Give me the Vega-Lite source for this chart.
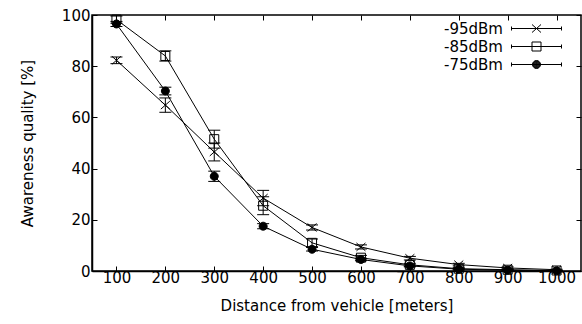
{
  "$schema": "https://vega.github.io/schema/vega-lite/v6.json",
  "width": 489,
  "height": 256,
  "autosize": {"type": "none"},
  "padding": {"left": 92, "top": 15, "right": 1, "bottom": 53},
  "background": "white",
  "config": {
    "view": {"stroke": "black", "strokeWidth": 1.5},
    "font": "DejaVu Sans",
    "axis": {
      "labelFont": "DejaVu Sans", "titleFont": "DejaVu Sans",
      "labelFontSize": 15, "titleFontSize": 15, "labelColor": "black", "titleColor": "black",
      "titleFontWeight": "normal", "domainColor": "black", "tickColor": "black",
      "grid": false, "tickSize": -5, "domainWidth": 1.5, "format": "d"
    },
    "legend": {"labelFont": "DejaVu Sans", "labelFontSize": 15, "labelColor": "black", "padding": 0}
  },
  "data": {"values": [
    {"series": "-95dBm", "d": 100, "v": 82.3, "lo": 81.0, "hi": 83.6},
    {"series": "-95dBm", "d": 200, "v": 64.8, "lo": 62.0, "hi": 67.6},
    {"series": "-95dBm", "d": 300, "v": 46.5, "lo": 43.0, "hi": 50.0},
    {"series": "-95dBm", "d": 400, "v": 28.5, "lo": 25.5, "hi": 31.5},
    {"series": "-95dBm", "d": 500, "v": 17.0, "lo": 16.0, "hi": 18.0},
    {"series": "-95dBm", "d": 600, "v": 9.4, "lo": 8.6, "hi": 10.2},
    {"series": "-95dBm", "d": 700, "v": 5.0, "lo": 4.3, "hi": 5.7},
    {"series": "-95dBm", "d": 800, "v": 2.5, "lo": 2.0, "hi": 3.0},
    {"series": "-95dBm", "d": 900, "v": 1.2, "lo": 0.8, "hi": 1.6},
    {"series": "-95dBm", "d": 1000, "v": 0.5, "lo": 0.3, "hi": 0.7},
    {"series": "-85dBm", "d": 100, "v": 98.2, "lo": 96.8, "hi": 99.6},
    {"series": "-85dBm", "d": 200, "v": 84.0, "lo": 82.0, "hi": 86.0},
    {"series": "-85dBm", "d": 300, "v": 51.5, "lo": 48.0, "hi": 55.0},
    {"series": "-85dBm", "d": 400, "v": 25.5, "lo": 22.0, "hi": 29.0},
    {"series": "-85dBm", "d": 500, "v": 11.0, "lo": 9.5, "hi": 12.5},
    {"series": "-85dBm", "d": 600, "v": 5.2, "lo": 4.3, "hi": 6.1},
    {"series": "-85dBm", "d": 700, "v": 2.4, "lo": 1.8, "hi": 3.0},
    {"series": "-85dBm", "d": 800, "v": 0.9, "lo": 0.5, "hi": 1.3},
    {"series": "-85dBm", "d": 900, "v": 0.5, "lo": 0.2, "hi": 0.8},
    {"series": "-85dBm", "d": 1000, "v": 0.2, "lo": 0.1, "hi": 0.3},
    {"series": "-75dBm", "d": 100, "v": 96.5, "lo": 95.5, "hi": 97.5},
    {"series": "-75dBm", "d": 200, "v": 70.3, "lo": 68.8, "hi": 71.8},
    {"series": "-75dBm", "d": 300, "v": 37.0, "lo": 35.0, "hi": 39.0},
    {"series": "-75dBm", "d": 400, "v": 17.5, "lo": 16.5, "hi": 18.5},
    {"series": "-75dBm", "d": 500, "v": 8.5, "lo": 7.8, "hi": 9.2},
    {"series": "-75dBm", "d": 600, "v": 4.5, "lo": 4.0, "hi": 5.0},
    {"series": "-75dBm", "d": 700, "v": 2.0, "lo": 1.6, "hi": 2.4},
    {"series": "-75dBm", "d": 800, "v": 0.7, "lo": 0.4, "hi": 1.0},
    {"series": "-75dBm", "d": 900, "v": 0.3, "lo": 0.1, "hi": 0.5},
    {"series": "-75dBm", "d": 1000, "v": 0.1, "lo": 0.0, "hi": 0.2}
  ]},
  "resolve": {
    "axis": {"x": "independent", "y": "independent"},
    "scale": {"shape": "independent"},
    "legend": {"shape": "independent"}
  },
  "layer": [
    {
      "mark": {"type": "line", "color": "black", "strokeWidth": 1},
      "encoding": {
        "x": {"field": "d", "type": "quantitative", "scale": {"domain": [50, 1050], "nice": false, "zero": false},
              "axis": {"orient": "bottom", "values": [100,200,300,400,500,600,700,800,900,1000], "title": "Distance from vehicle [meters]", "labelPadding": 4, "titlePadding": 13}},
        "y": {"field": "v", "type": "quantitative", "scale": {"domain": [0, 100], "nice": false},
              "axis": {"orient": "left", "values": [0,20,40,60,80,100], "title": "Awareness quality [%]", "labelPadding": 7, "titlePadding": 26}},
        "detail": {"field": "series"}
      }
    },
    {
      "mark": {"type": "tick", "orient": "horizontal", "color": "black", "size": 12, "thickness": 1, "opacity": 1},
      "encoding": {
        "x": {"field": "d", "type": "quantitative",
              "axis": {"orient": "top", "values": [100,200,300,400,500,600,700,800,900,1000], "labels": false, "title": null, "domain": false}},
        "y": {"field": "lo", "type": "quantitative",
              "axis": {"orient": "right", "values": [0,20,40,60,80,100], "labels": false, "title": null, "domain": false}}
      }
    },
    {
      "mark": {"type": "tick", "orient": "horizontal", "color": "black", "size": 12, "thickness": 1, "opacity": 1},
      "encoding": {
        "x": {"field": "d", "type": "quantitative", "axis": null},
        "y": {"field": "hi", "type": "quantitative", "axis": null}
      }
    },
    {
      "mark": {"type": "rule", "color": "black", "strokeWidth": 1},
      "encoding": {
        "x": {"field": "d", "type": "quantitative", "axis": null},
        "y": {"field": "lo", "type": "quantitative", "axis": null},
        "y2": {"field": "hi"}
      }
    },
    {
      "mark": {"type": "point", "filled": false, "opacity": 1, "stroke": "black", "strokeWidth": 1, "size": 100},
      "encoding": {
        "x": {"field": "d", "type": "quantitative", "axis": null},
        "y": {"field": "v", "type": "quantitative", "axis": null},
        "fill": {"field": "series", "type": "nominal", "scale": {"domain": ["-95dBm", "-85dBm", "-75dBm"], "range": ["transparent", "transparent", "black"]}, "legend": null},
        "shape": {"field": "series", "type": "nominal",
          "scale": {"domain": ["-95dBm", "-85dBm", "-75dBm"], "range": [
            "M-0.9,-0.8L0.9,0.8M-0.9,0.8L0.9,-0.8",
            "M-0.9,-0.9L0.9,-0.9L0.9,0.9L-0.9,0.9Z",
            "M-0.8,0A0.8,0.8,0,1,1,0.8,0A0.8,0.8,0,1,1,-0.8,0Z"]},
          "legend": null
        }
      }
    },
    {
      "transform": [{"filter": "false"}],
      "mark": {"type": "point", "filled": false, "opacity": 1, "stroke": "black", "strokeWidth": 1, "size": 100},
      "encoding": {
        "x": {"field": "d", "type": "quantitative", "axis": null},
        "y": {"field": "v", "type": "quantitative", "axis": null},
        "shape": {"field": "series", "type": "nominal",
          "scale": {"domain": ["-95dBm", "-85dBm", "-75dBm"], "range": [
            "M-5,0L5,0M-5,-0.4L-5,0.4M5,-0.4L5,0.4M-0.9,-0.8L0.9,0.8M-0.9,0.8L0.9,-0.8",
            "M-5,0L5,0M-5,-0.4L-5,0.4M5,-0.4L5,0.4M-0.9,-0.9L0.9,-0.9L0.9,0.9L-0.9,0.9Z",
            "M-5,0L5,0M-5,-0.4L-5,0.4M5,-0.4L5,0.4M-0.8,0A0.8,0.8,0,1,1,0.8,0A0.8,0.8,0,1,1,-0.8,0ZM-0.7,0A0.7,0.7,0,1,1,0.7,0A0.7,0.7,0,1,1,-0.7,0ZM-0.6,0A0.6,0.6,0,1,1,0.6,0A0.6,0.6,0,1,1,-0.6,0ZM-0.5,0A0.5,0.5,0,1,1,0.5,0A0.5,0.5,0,1,1,-0.5,0ZM-0.4,0A0.4,0.4,0,1,1,0.4,0A0.4,0.4,0,1,1,-0.4,0ZM-0.3,0A0.3,0.3,0,1,1,0.3,0A0.3,0.3,0,1,1,-0.3,0ZM-0.2,0A0.2,0.2,0,1,1,0.2,0A0.2,0.2,0,1,1,-0.2,0ZM-0.1,0A0.1,0.1,0,1,1,0.1,0A0.1,0.1,0,1,1,-0.1,0Z"]},
          "legend": {"orient": "none", "legendX": 437, "legendY": 6, "title": null,
            "labelAlign": "right", "labelOffset": -41, "rowPadding": 2, "symbolSize": 100, "symbolStrokeColor": "black", "symbolStrokeWidth": 1, "symbolOpacity": 1}
        }
      }
    }
  ]
}
